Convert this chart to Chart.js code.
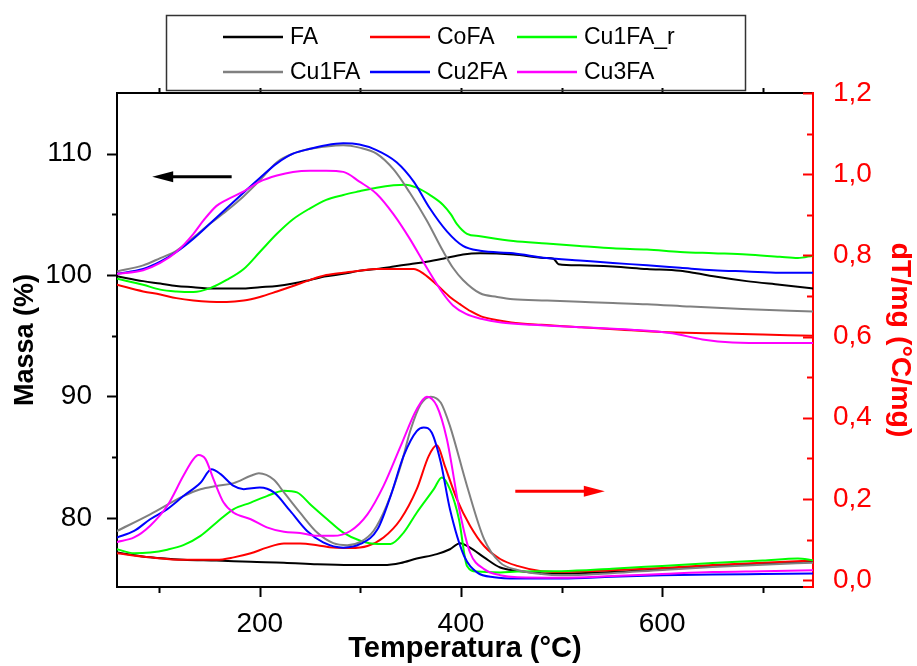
<!DOCTYPE html>
<html><head><meta charset="utf-8">
<script src="https://cdn.jsdelivr.net/npm/chart.js@4/dist/chart.umd.min.js"></script>
<style>html,body{margin:0;padding:0;background:#fff}#wrap{width:917px;height:666px}</style>
</head><body><div id="wrap"><canvas id="c" width="917" height="666"></canvas></div>
<script>
// ---- series names / colours ----
const seriesNames  = ['FA','CoFA','Cu1FA_r','Cu1FA','Cu2FA','Cu3FA'];
const seriesColors = ['#000000','#ff0000','#00ff00','#808080','#0000ff','#ff00ff'];

// ---- mass (TG) curves: [temperature °C, mass %] ----
const tgFA = [[58,99.9],[84,99.5],[101,99.3],[117,99.1],[134,99.0],[150,98.9],[167,98.9],[184,98.9],[200,99.0],[217,99.1],[233,99.3],[250,99.6],[266,99.9],[283,100.1],[299,100.35],[316,100.5],[333,100.7],[349,100.9],[366,101.1],[382,101.35],[402,101.7],[419,101.8],[452,101.7],[485,101.4],[492,101.35],[497,100.9],[518,100.8],[551,100.7],[585,100.5],[618,100.35],[634,100.15],[651,99.9],[684,99.5],[717,99.2],[750,98.9]];
const tgCoFA = [[58,99.2],[84,98.65],[101,98.4],[117,98.1],[134,97.9],[150,97.8],[167,97.78],[184,97.9],[200,98.2],[217,98.65],[233,99.1],[250,99.6],[266,100.0],[283,100.2],[299,100.35],[316,100.5],[333,100.5],[353,100.5],[363,100.1],[376,99.2],[389,98.2],[399,97.6],[410,97.0],[420,96.6],[435,96.3],[450,96.1],[480,95.9],[520,95.7],[560,95.5],[600,95.3],[650,95.2],[700,95.1],[750,95.0]];
const tgCu1FAr = [[58,99.7],[84,99.2],[101,98.8],[117,98.65],[134,98.6],[150,98.9],[167,99.6],[184,100.5],[200,101.9],[217,103.4],[233,104.6],[250,105.5],[266,106.2],[283,106.6],[299,106.9],[316,107.2],[333,107.4],[345,107.45],[356,107.2],[369,106.6],[382,105.8],[390,105.0],[396,104.2],[406,103.4],[419,103.2],[452,102.8],[485,102.6],[518,102.4],[551,102.2],[585,102.1],[618,101.9],[651,101.8],[684,101.7],[717,101.5],[735,101.4],[750,101.6]];
const tgCu1FA = [[58,100.3],[84,100.8],[101,101.4],[117,102.0],[134,103.1],[150,104.2],[167,105.3],[184,106.5],[200,107.8],[217,109.3],[233,110.0],[250,110.4],[266,110.6],[283,110.7],[299,110.5],[316,110.0],[333,108.7],[349,106.8],[366,104.5],[382,102.0],[392,100.6],[402,99.6],[419,98.5],[436,98.2],[452,98.0],[485,97.9],[518,97.8],[551,97.7],[585,97.6],[628,97.4],[680,97.2],[750,97.0]];
const tgCu2FA = [[58,100.1],[84,100.5],[101,101.1],[117,101.9],[134,103.0],[150,104.2],[167,105.5],[184,106.8],[200,108.0],[217,109.2],[233,110.0],[250,110.4],[266,110.7],[283,110.85],[299,110.75],[316,110.3],[336,109.3],[353,107.7],[369,105.5],[386,103.6],[402,102.4],[419,102.0],[452,101.8],[485,101.4],[518,101.2],[551,101.0],[585,100.8],[618,100.6],[651,100.4],[684,100.3],[717,100.2],[750,100.2]];
const tgCu3FA = [[58,100.1],[84,100.4],[101,101.0],[117,101.9],[134,103.4],[144,104.5],[157,105.7],[167,106.2],[184,106.9],[200,107.7],[217,108.2],[233,108.5],[250,108.6],[266,108.6],[283,108.5],[299,107.7],[316,106.7],[333,105.0],[349,103.0],[366,100.6],[382,98.5],[392,97.5],[405,96.8],[420,96.4],[440,96.1],[470,95.9],[520,95.7],[570,95.5],[610,95.2],[640,94.7],[670,94.45],[710,94.4],[750,94.4]];

// ---- DTA curves: [temperature °C, dT/mg °C/mg] ----
const dtaFA = [[58,0.068],[91,0.056],[124,0.050],[157,0.048],[191,0.045],[224,0.043],[257,0.039],[290,0.037],[323,0.037],[340,0.042],[356,0.053],[376,0.064],[389,0.076],[399,0.091],[409,0.080],[423,0.056],[439,0.031],[456,0.023],[480,0.017],[500,0.016],[550,0.020],[600,0.027],[650,0.034],[700,0.040],[750,0.045]];
const dtaCoFA = [[58,0.066],[91,0.056],[124,0.050],[157,0.050],[174,0.056],[191,0.066],[207,0.080],[224,0.090],[240,0.090],[257,0.086],[273,0.080],[290,0.079],[307,0.084],[323,0.105],[340,0.150],[356,0.224],[368,0.306],[376,0.332],[384,0.281],[396,0.199],[409,0.134],[423,0.084],[439,0.052],[456,0.035],[480,0.022],[500,0.020],[550,0.024],[600,0.030],[650,0.037],[700,0.043],[750,0.048]];
const dtaCu1FAr = [[58,0.076],[75,0.066],[91,0.068],[108,0.075],[124,0.086],[141,0.109],[157,0.142],[174,0.175],[191,0.191],[207,0.207],[224,0.220],[237,0.216],[250,0.187],[267,0.150],[283,0.117],[300,0.097],[317,0.089],[330,0.089],[343,0.117],[356,0.166],[373,0.224],[381,0.253],[389,0.224],[398,0.150],[406,0.035],[416,0.021],[439,0.019],[456,0.021],[500,0.022],[550,0.028],[600,0.035],[650,0.042],[700,0.048],[735,0.053],[750,0.049]];
const dtaCu1FA = [[58,0.121],[91,0.162],[124,0.207],[141,0.224],[157,0.232],[174,0.239],[191,0.257],[199,0.263],[214,0.247],[224,0.216],[240,0.166],[257,0.117],[273,0.091],[287,0.086],[300,0.094],[313,0.121],[326,0.183],[340,0.281],[350,0.371],[360,0.433],[370,0.452],[380,0.437],[389,0.380],[406,0.232],[423,0.101],[439,0.043],[456,0.025],[480,0.015],[500,0.012],[550,0.017],[600,0.025],[650,0.032],[700,0.038],[750,0.043]];
const dtaCu2FA = [[58,0.105],[75,0.121],[91,0.150],[108,0.175],[124,0.207],[141,0.240],[152,0.273],[161,0.261],[174,0.232],[184,0.224],[200,0.228],[214,0.216],[230,0.171],[247,0.121],[263,0.093],[283,0.080],[300,0.089],[317,0.125],[330,0.207],[343,0.306],[356,0.367],[363,0.376],[371,0.363],[380,0.289],[389,0.175],[403,0.060],[416,0.019],[433,0.007],[456,0.004],[500,0.004],[550,0.008],[600,0.012],[650,0.014],[700,0.015],[750,0.016]];
const dtaCu3FA = [[58,0.094],[75,0.105],[91,0.134],[108,0.183],[124,0.257],[134,0.298],[139,0.308],[146,0.298],[154,0.248],[164,0.191],[174,0.166],[191,0.150],[207,0.130],[224,0.119],[240,0.116],[257,0.109],[273,0.109],[290,0.121],[307,0.162],[323,0.232],[340,0.330],[356,0.421],[366,0.452],[376,0.429],[386,0.347],[399,0.166],[409,0.068],[423,0.027],[439,0.012],[456,0.007],[500,0.006],[550,0.010],[600,0.015],[650,0.020],[700,0.022],[750,0.024]];

// ---- axes / ticks ----
const xRange = [58, 750];
const massRange = [74.3, 115];
const dtaRange = [-0.017, 1.2];
const xMajorTicks = [200, 400, 600];
const xMinorTicks = [100, 300, 500, 700];
const massMajorTicks = [80, 90, 100, 110];
const massMinorTicks = [85, 95, 105];
const dtaMajorTicks = [0, 0.2, 0.4, 0.6, 0.8, 1.0, 1.2];
const dtaMinorTicks = [0.1, 0.3, 0.5, 0.7, 0.9, 1.1];

// ---- direction arrows (data units) ----
const massArrow = {x0: 172, x1: 93, y: 108.1};
const dtaArrow = {x0: 454, x1: 543, y: 0.219};

const tgSeries = [tgFA, tgCoFA, tgCu1FAr, tgCu1FA, tgCu2FA, tgCu3FA];
const dtaSeries = [dtaFA, dtaCoFA, dtaCu1FAr, dtaCu1FA, dtaCu2FA, dtaCu3FA];

const FONT = "Arial, 'Liberation Sans', sans-serif";
const datasets = [];
const drawOrder = [5, 4, 3, 2, 1, 0];
drawOrder.forEach(i => {
  datasets.push({label: seriesNames[i], data: tgSeries[i].map(p => ({x: p[0], y: p[1]})), yAxisID: 'y',
    borderColor: seriesColors[i], borderWidth: 2, pointRadius: 0, fill: false, cubicInterpolationMode: 'monotone'});
  datasets.push({label: seriesNames[i] + ' DTA', data: dtaSeries[i].map(p => ({x: p[0], y: p[1]})), yAxisID: 'y2',
    borderColor: seriesColors[i], borderWidth: 2, pointRadius: 0, fill: false, cubicInterpolationMode: 'monotone'});
});

const decor = {
  id: 'decor',
  afterDraw(chart) {
    const ctx = chart.ctx;
    const sx = chart.scales.x, sy = chart.scales.y, sy2 = chart.scales.y2;
    const L = chart.chartArea.left, R = chart.chartArea.right, T = chart.chartArea.top, B = chart.chartArea.bottom;
    ctx.save();
    ctx.lineWidth = 2;
    ctx.strokeStyle = '#000';
    const xt = (vals, len) => vals.forEach(v => { const p = Math.round(sx.getPixelForValue(v)) + 0.5;
      ctx.beginPath(); ctx.moveTo(p, B); ctx.lineTo(p, B + len); ctx.stroke();
      ctx.beginPath(); ctx.moveTo(p, T); ctx.lineTo(p, T - 5); ctx.stroke(); });
    xt(xMajorTicks, 10); xt(xMinorTicks, 6);
    const yt = (vals, len) => vals.forEach(v => { const p = Math.round(sy.getPixelForValue(v)) + 0.5;
      ctx.beginPath(); ctx.moveTo(L, p); ctx.lineTo(L - len, p); ctx.stroke(); });
    yt(massMajorTicks, 10); yt(massMinorTicks, 5);
    ctx.strokeStyle = '#ff0000';
    const rt = (vals, len) => vals.forEach(v => { const p = Math.round(sy2.getPixelForValue(v)) + 0.5;
      ctx.beginPath(); ctx.moveTo(R, p); ctx.lineTo(R - len, p); ctx.stroke(); });
    rt(dtaMajorTicks, 10); rt(dtaMinorTicks, 6);
    ctx.beginPath(); ctx.moveTo(R - 10, B); ctx.lineTo(R + 1, B); ctx.stroke();
    const arrow = (x0, x1, y, color) => {
      const dir = Math.sign(x1 - x0);
      ctx.strokeStyle = color; ctx.fillStyle = color; ctx.lineWidth = 3;
      ctx.beginPath(); ctx.moveTo(x0, y); ctx.lineTo(x1 - dir * 18, y); ctx.stroke();
      ctx.beginPath(); ctx.moveTo(x1, y); ctx.lineTo(x1 - dir * 21, y - 5.5); ctx.lineTo(x1 - dir * 21, y + 5.5); ctx.closePath(); ctx.fill();
    };
    arrow(sx.getPixelForValue(massArrow.x0), sx.getPixelForValue(massArrow.x1), sy.getPixelForValue(massArrow.y), '#000');
    arrow(sx.getPixelForValue(dtaArrow.x0), sx.getPixelForValue(dtaArrow.x1), sy2.getPixelForValue(dtaArrow.y), '#ff0000');
    ctx.lineWidth = 1.5; ctx.strokeStyle = '#333';
    ctx.strokeRect(166.5, 15.5, 579, 75);
    const colX = [223, 370, 517], rowY = [37, 72];
    const legendGrid = [[0, 1, 2], [3, 4, 5]];
    ctx.font = '23px ' + FONT; ctx.textBaseline = 'middle'; ctx.textAlign = 'left';
    legendGrid.forEach((row, r) => row.forEach((si, c) => {
      ctx.strokeStyle = seriesColors[si]; ctx.lineWidth = 2.5;
      ctx.beginPath(); ctx.moveTo(colX[c], rowY[r]); ctx.lineTo(colX[c] + 60, rowY[r]); ctx.stroke();
      ctx.fillStyle = '#000'; ctx.fillText(seriesNames[si], colX[c] + 67, rowY[r] + 1);
    }));
    ctx.restore();
  }
};

new Chart(document.getElementById('c'), {
  type: 'line',
  data: {datasets},
  options: {
    responsive: false, animation: false, devicePixelRatio: 1,
    layout: {padding: 0},
    plugins: {legend: {display: false}, tooltip: {enabled: false}},
    elements: {line: {borderCapStyle: 'round', borderJoinStyle: 'round'}},
    scales: {
      x: {type: 'linear', position: 'bottom', min: xRange[0], max: xRange[1],
        afterBuildTicks: s => { s.ticks = xMajorTicks.map(v => ({value: v})); },
        afterFit: s => { s.height = 79; },
        grid: {display: false}, border: {display: true, color: '#000', width: 2},
        ticks: {color: '#000', font: {family: FONT, size: 28}, padding: 12, maxRotation: 0, autoSkip: false},
        title: {display: true, text: 'Temperatura (°C)', color: '#000', font: {family: FONT, size: 29, weight: 'bold', lineHeight: 1.15}, padding: {top: 0, bottom: 0}}},
      x2: {type: 'linear', position: 'top', min: xRange[0], max: xRange[1],
        afterFit: s => { s.height = 93; },
        grid: {display: false}, border: {display: true, color: '#000', width: 2}, ticks: {display: false}},
      y: {type: 'linear', position: 'left', min: massRange[0], max: massRange[1],
        afterBuildTicks: s => { s.ticks = massMajorTicks.map(v => ({value: v})); },
        afterFit: s => { s.width = 117; },
        grid: {display: false}, border: {display: true, color: '#000', width: 2},
        ticks: {color: '#000', font: {family: FONT, size: 28}, padding: 17},
        title: {display: true, text: 'Massa (%)', color: '#000', font: {family: FONT, size: 27, weight: 'bold'}, padding: {top: 9, bottom: 0}}},
      y2: {type: 'linear', position: 'right', min: dtaRange[0], max: dtaRange[1],
        afterBuildTicks: s => { s.ticks = dtaMajorTicks.map(v => ({value: v})); },
        afterFit: s => { s.width = 104; },
        grid: {display: false}, border: {display: true, color: '#ff0000', width: 2},
        ticks: {color: '#ff0000', font: {family: FONT, size: 28}, padding: 12, callback: v => v.toFixed(1).replace('.', ',')},
        title: {display: true, text: 'dT/mg (°C/mg)', color: '#ff0000', font: {family: FONT, size: 28.5, weight: 'bold'}, padding: {top: 0, bottom: 0}}}
    }
  },
  plugins: [decor]
});
</script></body></html>
